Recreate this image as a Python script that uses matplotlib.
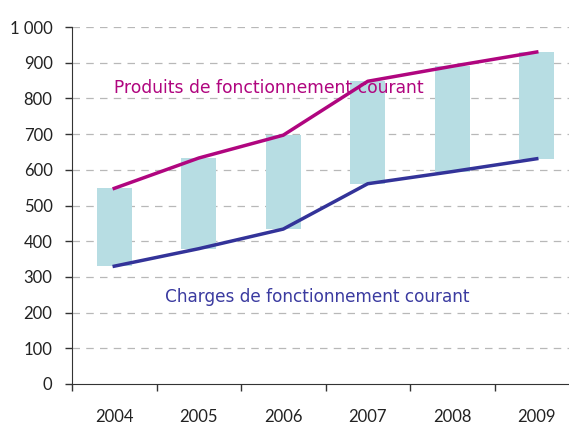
import matplotlib.pyplot as plt
import numpy as np

# Données (en milliers / millions d'euros)
annees = ["2004", "2005", "2006", "2007", "2008", "2009"]
produits = [548, 633, 697, 848, 890, 930]
charges = [330, 379, 434, 561, 595, 631]
yticks = [0, 100, 200, 300, 400, 500, 600, 700, 800, 900, 1000]
ylabels = ["0", "100", "200", "300", "400", "500", "600", "700", "800", "900", "1 000"]

col_prod = "#b0057f"
col_charg = "#333399"
col_barre = "#b7dde3"

fig = plt.figure(figsize=(5.69, 4.26), dpi=100)
ax = fig.add_axes([72/569, 42/426, 507/569, 357/426])

x = np.arange(len(annees))
ecart = np.array(produits) - np.array(charges)
ax.bar(x, ecart, bottom=charges, width=0.41, color=col_barre, zorder=2)
ax.plot(x, produits, color=col_prod, lw=2.5, zorder=3)
ax.plot(x, charges, color=col_charg, lw=2.5, zorder=3)

ax.set_xlim(-0.5, len(annees) - 0.5)
ax.set_ylim(0, 1000)
ax.set_yticks(yticks)
ax.set_yticklabels(ylabels)
for g in yticks[1:]:
    ax.axhline(g, color="#b8b8b8", lw=0.9, ls=(0, (6, 5)), zorder=1)

# graduations aux bords des catégories, libellés au centre
ax.set_xticks(np.arange(-0.5, len(annees), 1.0))
ax.set_xticklabels([])
ax.set_xticks(x, minor=True)
ax.set_xticklabels(annees, minor=True)
ax.tick_params(axis="x", which="minor", length=0, pad=18)
ax.tick_params(axis="x", which="major", length=5, width=1, color="#333333")
ax.tick_params(axis="y", length=5, width=1, color="#333333", pad=9)
for lab in ax.get_xticklabels(minor=True) + ax.get_yticklabels():
    lab.set_fontfamily("Lato")
    lab.set_fontsize(12)
    lab.set_color("#222222")

for s in ["top", "right"]:
    ax.spines[s].set_visible(False)
ax.spines["left"].set_color("#333333")
ax.spines["bottom"].set_color("#333333")

ax.text(1.83, 829, "Produits de fonctionnement courant", color=col_prod,
        fontsize=12.3, ha="center", va="center", family="DejaVu Sans", zorder=4)
ax.text(2.40, 244, "Charges de fonctionnement courant", color="#3b3ba0",
        fontsize=12.2, ha="center", va="center", family="DejaVu Sans", zorder=4)

fig.savefig("out.png", dpi=100)
